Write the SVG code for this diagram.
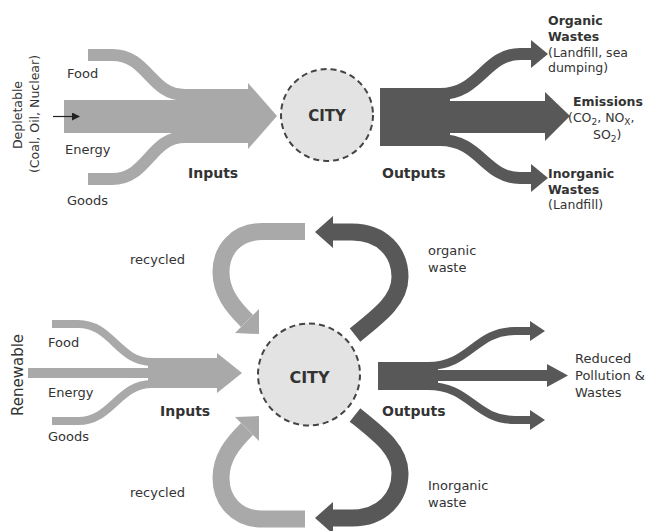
<svg xmlns="http://www.w3.org/2000/svg" width="646" height="531" viewBox="0 0 646 531">
<defs>
<style>
.lt{fill:#a9a9a9}
.dk{fill:#585858}
.lts{fill:none;stroke:#a9a9a9;stroke-linecap:butt}
.dks{fill:none;stroke:#585858;stroke-linecap:butt}
.city{fill:#e3e3e3;stroke:#444;stroke-width:2;stroke-dasharray:6 4}
.t{font-family:"DejaVu Sans",sans-serif;font-size:13px;fill:#333}
.b{font-family:"DejaVu Sans",sans-serif;font-weight:bold;font-size:14px;fill:#333}
.rb{font-family:"DejaVu Sans",sans-serif;font-weight:bold;font-size:12.5px;fill:#333}
.r{font-family:"DejaVu Sans",sans-serif;font-size:12.5px;fill:#333}
</style>
<marker id="ah" markerWidth="8" markerHeight="8" refX="7" refY="4" orient="auto" markerUnits="userSpaceOnUse">
<path d="M0,0 L8,4 L0,8 Z" fill="#222"/>
</marker>
</defs>
<rect width="646" height="531" fill="#fff"/>

<g id="connectors">
<!-- top inputs -->
<g id="top-inputs">
<path class="lts" stroke-width="12" d="M88,55 H112 C148,55 150,95 185,95"/>
<path class="lts" stroke-width="12" d="M88,179 H112 C148,179 150,137 185,137"/>
<rect class="lt" x="64" y="100" width="186" height="33"/>
<rect class="lt" x="180" y="89" width="70" height="54"/>
<polygon class="lt" points="248,83 277,116 248,149"/>
<line x1="53" y1="116.5" x2="79" y2="116.5" stroke="#222" stroke-width="1.2" marker-end="url(#ah)"/>
</g>
<!-- top outputs -->
<g id="top-outputs">
<rect class="dk" x="380" y="88" width="70" height="58"/>
<path class="dks" stroke-width="12" d="M440,94 C480,94 485,54 520,54 H533"/>
<polygon class="dk" points="531,40 548,54 531,68"/>
<rect class="dk" x="445" y="101" width="102" height="32"/>
<polygon class="dk" points="545,92 570,116 545,141"/>
<path class="dks" stroke-width="12" d="M440,140 C480,140 485,178 520,178 H533"/>
<polygon class="dk" points="531,164 548,178 531,192"/>
</g>
<!-- bottom inputs -->
<g id="bottom-inputs">
<path class="lts" stroke-width="8" d="M52,324 H78 C112,324 118,362 152,362"/>
<path class="lts" stroke-width="8" d="M52,421 H78 C112,421 118,384 152,384"/>
<rect class="lt" x="28" y="368" width="190" height="10"/>
<rect class="lt" x="148" y="358" width="70" height="30"/>
<polygon class="lt" points="217,353 242,373 217,393"/>
</g>
<!-- bottom outputs -->
<g id="bottom-outputs">
<rect class="dk" x="378" y="362" width="60" height="28"/>
<path class="dks" stroke-width="8" d="M428,366 C470,366 475,331 515,331 H532"/>
<polygon class="dk" points="530,321 545,331 530,341"/>
<rect class="dk" x="430" y="370" width="119" height="11"/>
<polygon class="dk" points="547,364 568,375.5 547,387"/>
<path class="dks" stroke-width="8" d="M428,386 C470,386 475,420 515,420 H532"/>
<polygon class="dk" points="530,410 545,420 530,430"/>
</g>
<!-- loops -->
<g id="loop-recycled-top">
<path class="lts" stroke-width="17" d="M305,231.5 H262 C236,231.5 221,250 221,272 C221,292 232,306 247,321"/>
<polygon class="lt" points="235,333 259,309 259,334"/>
</g>
<g id="loop-organic">
<path class="dks" stroke-width="17" d="M333,232 H352 C382,232 400,252 400,277 C400,300 380,315 355,335"/>
<polygon class="dk" points="333,216 315,232 333,248"/>
</g>
<g id="loop-recycled-bottom">
<path class="lts" stroke-width="17" d="M305,519 H262 C236,519 221,500 221,478 C221,458 232,444 247,429"/>
<polygon class="lt" points="235,417 259,441 259,416"/>
</g>
<g id="loop-inorganic">
<path class="dks" stroke-width="17" d="M333,518 H352 C382,518 400,498 400,473 C400,450 380,435 355,415"/>
<polygon class="dk" points="333,502 315,518 333,534"/>
</g>
</g>

<g id="city-top">
<circle class="city" cx="327" cy="115" r="46"/>
<text class="b" x="327" y="121" text-anchor="middle" style="font-size:15px">CITY</text>
</g>
<g id="city-bottom">
<circle class="city" cx="309" cy="374.5" r="51"/>
<text class="b" x="309.5" y="383" text-anchor="middle" style="font-size:16px">CITY</text>
</g>

<g id="labels-top">
<text class="r" transform="translate(22,115) rotate(-90)" text-anchor="middle">Depletable</text>
<text class="r" transform="translate(39,114) rotate(-90)" text-anchor="middle">(Coal, Oil, Nuclear)</text>
<text class="t" x="67" y="78">Food</text>
<text class="t" x="65" y="154">Energy</text>
<text class="t" x="67" y="205">Goods</text>
<text class="b" x="188" y="178">Inputs</text>
<text class="b" x="382" y="178">Outputs</text>
<text class="rb" x="548" y="25">Organic</text>
<text class="rb" x="548" y="41">Wastes</text>
<text class="r" x="548" y="57">(Landfill, sea</text>
<text class="r" x="548" y="72">dumping)</text>
<text class="rb" x="573" y="106">Emissions</text>
<text class="r" x="568" y="122">(CO<tspan font-size="9" dy="3">2</tspan><tspan dy="-3">, NO</tspan><tspan font-size="9" dy="3">X</tspan><tspan dy="-3">,</tspan></text>
<text class="r" x="593" y="139">SO<tspan font-size="9" dy="3">2</tspan><tspan dy="-3">)</tspan></text>
<text class="rb" x="548" y="178">Inorganic</text>
<text class="rb" x="548" y="194">Wastes</text>
<text class="r" x="548" y="209">(Landfill)</text>
</g>

<g id="labels-bottom">
<text class="t" transform="translate(23,375) rotate(-90)" text-anchor="middle" style="font-size:15px">Renewable</text>
<text class="t" x="130" y="264">recycled</text>
<text class="t" x="48" y="347">Food</text>
<text class="t" x="48" y="397">Energy</text>
<text class="t" x="48" y="441">Goods</text>
<text class="b" x="160" y="416">Inputs</text>
<text class="b" x="382" y="416">Outputs</text>
<text class="t" x="130" y="497">recycled</text>
<text class="t" x="428" y="255">organic</text>
<text class="t" x="428" y="272">waste</text>
<text class="t" x="428" y="490">Inorganic</text>
<text class="t" x="428" y="507">waste</text>
<text class="t" x="575" y="363">Reduced</text>
<text class="t" x="575" y="380">Pollution &amp;</text>
<text class="t" x="575" y="397">Wastes</text>
</g>
</svg>
